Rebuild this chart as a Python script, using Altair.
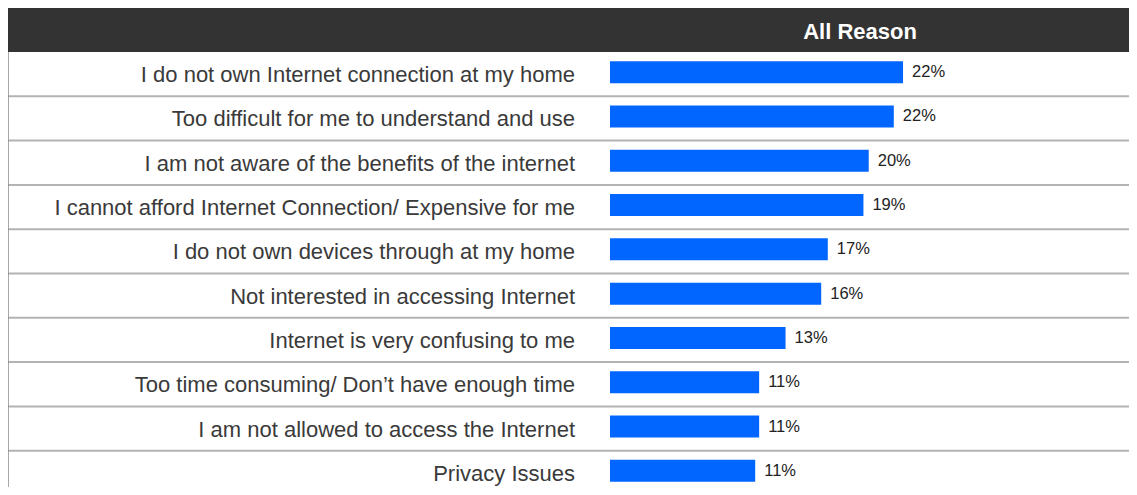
import altair as alt
import pandas as pd

reasons = [
    "I do not own Internet connection at my home",
    "Too difficult for me to understand and use",
    "I am not aware of the benefits of the internet",
    "I cannot afford Internet Connection/ Expensive for me",
    "I do not own devices through at my home",
    "Not interested in accessing Internet",
    "Internet is very confusing to me",
    "Too time consuming/ Don\u2019t have enough time",
    "I am not allowed to access the Internet",
    "Privacy Issues",
]
values = [22.2, 21.5, 19.6, 19.2, 16.5, 16.0, 13.3, 11.3, 11.3, 11.0]
value_labels = ["22%", "22%", "20%", "19%", "17%", "16%", "13%", "11%", "11%", "11%"]
header = ["All Reason"]

df = pd.DataFrame({"reason": reasons, "value": values, "label": value_labels})
hdr = pd.DataFrame({"h": header})

FONT = "Liberation Sans, Arial, sans-serif"
W, H = 1121, 435
ROWS_H = 443

yscale = alt.Scale(paddingInner=0, paddingOuter=0, range=[0, ROWS_H])
yenc = alt.Y("reason:N", sort=reasons, axis=None, scale=yscale)
xscale = alt.Scale(domain=[0, 40], range=[602, 602 + 40 * 13.2])

base = alt.Chart(df)

bars = base.mark_bar(color="#0066FF", size=22, yOffset=-2).encode(
    x=alt.X("value:Q", scale=xscale, axis=None),
    y=yenc,
)

vals = base.mark_text(align="left", baseline="middle", dx=9, dy=-2,
                      font=FONT, fontSize=16.5, color="#222222").encode(
    x=alt.X("value:Q", scale=xscale, axis=None),
    y=yenc,
    text="label:N",
)

cats = base.mark_text(align="right", baseline="middle", dy=1,
                      font=FONT, fontSize=22, color="#3a3a3a").encode(
    x=alt.value(567),
    y=yenc,
    text="reason:N",
)

seps = base.mark_rule(color="#b3b3b3", strokeWidth=2).encode(
    y=alt.Y("reason:N", sort=reasons, axis=None, bandPosition=1, scale=yscale),
    x=alt.value(0),
    x2=alt.value(W),
)

hchart = alt.Chart(hdr)
head_rect = hchart.mark_rect(color="#333333").encode(
    x=alt.value(-1), x2=alt.value(W), y=alt.value(-45), y2=alt.value(0)
)
head_text = hchart.mark_text(align="center", baseline="middle", font=FONT,
                             fontSize=22, fontWeight="bold", color="white").encode(
    x=alt.value(852), y=alt.value(-20), text="h:N"
)
left_line = hchart.mark_rule(color="#8a8a8a", strokeWidth=1.5).encode(
    x=alt.value(0), y=alt.value(0), y2=alt.value(ROWS_H)
)

chart = alt.layer(seps, bars, vals, cats, head_rect, head_text, left_line).properties(
    width=W, height=H,
    autosize=alt.AutoSizeParams(type="none"),
    padding={"top": 44, "left": 0, "right": 0, "bottom": 0},
    background="white",
).configure_view(stroke=None)

chart.save("out.html", embed_options={"renderer": "svg", "actions": False})
